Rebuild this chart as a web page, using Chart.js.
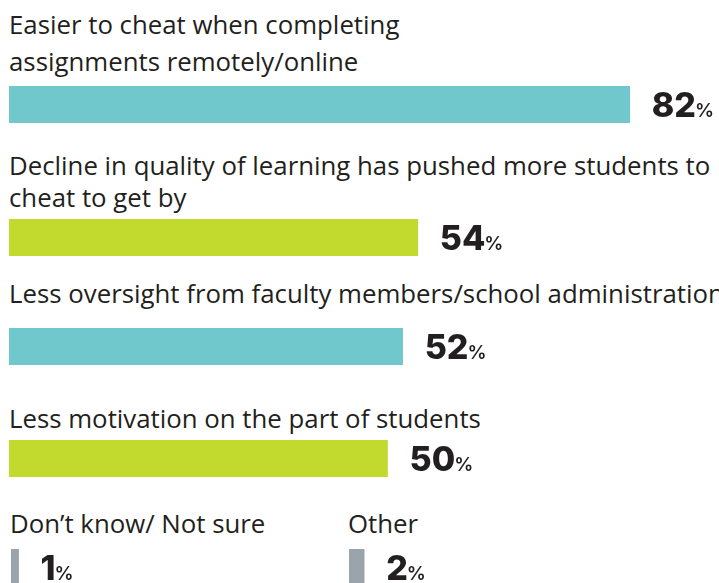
<!DOCTYPE html>
<html>
<head>
<meta charset="utf-8">
<script src="https://cdn.jsdelivr.net/npm/chart.js@4/dist/chart.umd.min.js"></script>
<style>
  body { margin: 0; width: 719px; height: 583px; overflow: hidden; background: #fff; position: relative; font-family: "Open Sans", sans-serif; color: #231f20; }
  .lbl { position: absolute; white-space: nowrap; }
  canvas { position: absolute; }
</style>
</head>
<body>
<script>
// answers and their shares (%)
const categories = [
  'Easier to cheat when completing assignments remotely/online',
  'Decline in quality of learning has pushed more students to cheat to get by',
  'Less oversight from faculty members/school administration',
  'Less motivation on the part of students',
  'Don\u2019t know/ Not sure',
  'Other'
];
const values = [82, 54, 52, 50, 1, 2];
const barColors = ['#70c8cc', '#c2d92e', '#70c8cc', '#c2d92e', '#9aa4ad', '#9aa4ad'];
// how each answer is broken over lines above its bar
const labelLines = [
  ['Easier to cheat when completing', 'assignments remotely/online'],
  ['Decline in quality of learning has pushed more students to', 'cheat to get by'],
  ['Less oversight from faculty members/school administration'],
  ['Less motivation on the part of students'],
  ['Don\u2019t know/ Not sure'],
  ['Other']
];

// where each row sits on the page
const rowLayout = [
  { x: 9,   top: 86,  textX: 9,   base: [35, 72] },
  { x: 9,   top: 219, textX: 9,   base: [176, 208] },
  { x: 9,   top: 328, textX: 9,   base: [304] },
  { x: 9,   top: 440, textX: 9,   base: [429] },
  { x: 11,  top: 549, textX: 10,  base: [534] },
  { x: 349, top: 549, textX: 348, base: [534] }
];
const fontSize = 25.8;
const barHeight = 37;
const pxPerPct = 7.57;

const valueLabel = {
  id: 'valueLabel',
  afterDatasetsDraw(chart) {
    const ctx = chart.ctx;
    const bar = chart.getDatasetMeta(0).data[0];
    const num = String(chart.data.datasets[0].data[0]);
    const x = bar.x + 22, y = bar.y + 12;
    ctx.save();
    ctx.fillStyle = '#231f20';
    ctx.textBaseline = 'alphabetic';
    ctx.font = '800 34px Inter';
    ctx.fillText(num, x, y);
    const w = ctx.measureText(num).width;
    ctx.font = '600 19px Inter';
    ctx.fillText('%', x + w - 1, y);
    ctx.restore();
  }
};

categories.forEach((cat, i) => {
  const L = rowLayout[i];
  labelLines[i].forEach((line, j) => {
    const d = document.createElement('div');
    d.className = 'lbl';
    d.textContent = line;
    d.style.fontSize = fontSize + 'px';
    d.style.lineHeight = fontSize + 'px';
    d.style.left = L.textX + 'px';
    d.style.top = (L.base[j] - 0.888 * fontSize) + 'px';
    document.body.appendChild(d);
  });

  const cv = document.createElement('canvas');
  cv.width = Math.round(100 * pxPerPct);
  cv.height = barHeight;
  cv.style.left = L.x + 'px';
  cv.style.top = L.top + 'px';
  document.body.appendChild(cv);

  new Chart(cv, {
    type: 'bar',
    data: {
      labels: [cat],
      datasets: [{
        data: [values[i]],
        backgroundColor: barColors[i],
        borderWidth: 0,
        barPercentage: 1,
        categoryPercentage: 1
      }]
    },
    options: {
      indexAxis: 'y',
      responsive: false,
      animation: false,
      events: [],
      layout: { padding: 0 },
      plugins: { legend: { display: false }, tooltip: { enabled: false } },
      scales: {
        x: { display: false, min: 0, max: 100 },
        y: { display: false }
      }
    },
    plugins: [valueLabel]
  });
});
</script>
</body>
</html>
